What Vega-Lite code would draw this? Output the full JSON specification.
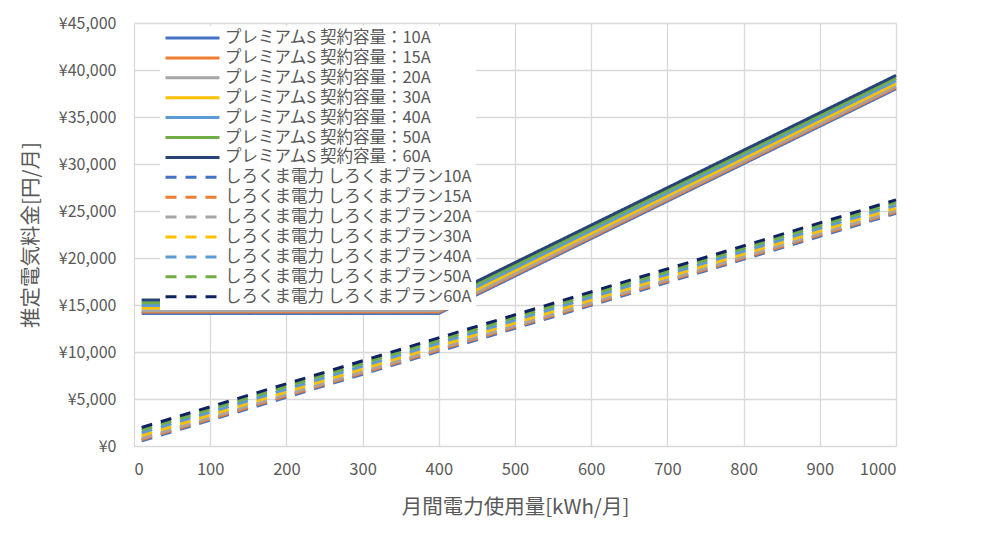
{
  "$schema": "https://vega.github.io/schema/vega-lite/v6.json",
  "width": 762,
  "height": 423,
  "autosize": {"type": "none"},
  "padding": {"left": 134, "top": 23, "right": 86, "bottom": 101},
  "background": "white",
  "data": {
    "values": [
      {"s": "プレミアムS 契約容量：10A", "x": 10, "y": 14100},
      {"s": "プレミアムS 契約容量：10A", "x": 400, "y": 14100},
      {"s": "プレミアムS 契約容量：10A", "x": 1000, "y": 38000},
      {"s": "プレミアムS 契約容量：15A", "x": 10, "y": 14243},
      {"s": "プレミアムS 契約容量：15A", "x": 400, "y": 14243},
      {"s": "プレミアムS 契約容量：15A", "x": 1000, "y": 38143},
      {"s": "プレミアムS 契約容量：20A", "x": 10, "y": 14386},
      {"s": "プレミアムS 契約容量：20A", "x": 400, "y": 14386},
      {"s": "プレミアムS 契約容量：20A", "x": 1000, "y": 38286},
      {"s": "プレミアムS 契約容量：30A", "x": 10, "y": 14672},
      {"s": "プレミアムS 契約容量：30A", "x": 400, "y": 14672},
      {"s": "プレミアムS 契約容量：30A", "x": 1000, "y": 38572},
      {"s": "プレミアムS 契約容量：40A", "x": 10, "y": 14958},
      {"s": "プレミアムS 契約容量：40A", "x": 400, "y": 14958},
      {"s": "プレミアムS 契約容量：40A", "x": 1000, "y": 38858},
      {"s": "プレミアムS 契約容量：50A", "x": 10, "y": 15244},
      {"s": "プレミアムS 契約容量：50A", "x": 400, "y": 15244},
      {"s": "プレミアムS 契約容量：50A", "x": 1000, "y": 39144},
      {"s": "プレミアムS 契約容量：60A", "x": 10, "y": 15530},
      {"s": "プレミアムS 契約容量：60A", "x": 400, "y": 15530},
      {"s": "プレミアムS 契約容量：60A", "x": 1000, "y": 39430},
      {"s": "しろくま電力 しろくまプラン10A", "x": 10, "y": 540},
      {"s": "しろくま電力 しろくまプラン10A", "x": 1000, "y": 24750},
      {"s": "しろくま電力 しろくまプラン15A", "x": 10, "y": 683},
      {"s": "しろくま電力 しろくまプラン15A", "x": 1000, "y": 24893},
      {"s": "しろくま電力 しろくまプラン20A", "x": 10, "y": 826},
      {"s": "しろくま電力 しろくまプラン20A", "x": 1000, "y": 25036},
      {"s": "しろくま電力 しろくまプラン30A", "x": 10, "y": 1112},
      {"s": "しろくま電力 しろくまプラン30A", "x": 1000, "y": 25322},
      {"s": "しろくま電力 しろくまプラン40A", "x": 10, "y": 1398},
      {"s": "しろくま電力 しろくまプラン40A", "x": 1000, "y": 25608},
      {"s": "しろくま電力 しろくまプラン50A", "x": 10, "y": 1684},
      {"s": "しろくま電力 しろくまプラン50A", "x": 1000, "y": 25894},
      {"s": "しろくま電力 しろくまプラン60A", "x": 10, "y": 1970},
      {"s": "しろくま電力 しろくまプラン60A", "x": 1000, "y": 26180}
    ]
  },
  "mark": {"type": "line", "strokeWidth": 3, "strokeCap": "butt"},
  "encoding": {
    "x": {
      "field": "x", "type": "quantitative",
      "scale": {"domain": [0, 1000], "nice": false, "zero": false},
      "axis": {
        "title": "月間電力使用量[kWh/月]",
        "values": [0, 100, 200, 300, 400, 500, 600, 700, 800, 900, 1000],
        "format": "d",
        "labelFontSize": 16.5,
        "labelPadding": 15,
        "titlePadding": 20
      }
    },
    "y": {
      "field": "y", "type": "quantitative",
      "scale": {"domain": [0, 45000], "nice": false},
      "axis": {
        "title": "推定電気料金[円/月]",
        "values": [0, 5000, 10000, 15000, 20000, 25000, 30000, 35000, 40000, 45000],
        "labelExpr": "'¥' + format(datum.value, ',')",
        "labelFontSize": 16,
        "labelPadding": 18,
        "titlePadding": 17
      }
    },
    "color": {
      "field": "s", "type": "nominal",
      "scale": {
        "domain": [
          "プレミアムS 契約容量：10A", "プレミアムS 契約容量：15A", "プレミアムS 契約容量：20A", "プレミアムS 契約容量：30A", "プレミアムS 契約容量：40A", "プレミアムS 契約容量：50A", "プレミアムS 契約容量：60A",
          "しろくま電力 しろくまプラン10A", "しろくま電力 しろくまプラン15A", "しろくま電力 しろくまプラン20A", "しろくま電力 しろくまプラン30A", "しろくま電力 しろくまプラン40A", "しろくま電力 しろくまプラン50A", "しろくま電力 しろくまプラン60A"
        ],
        "range": ["#4472C4", "#ED7D31", "#A5A5A5", "#FFC000", "#5B9BD5", "#70AD47", "#264478",
                  "#4472C4", "#ED7D31", "#A5A5A5", "#FFC000", "#5B9BD5", "#70AD47", "#0E2262"]
      },
      "legend": {
        "title": null,
        "orient": "none",
        "legendX": 26,
        "legendY": 3
      }
    },
    "strokeDash": {
      "field": "s", "type": "nominal",
      "scale": {
        "domain": [
          "プレミアムS 契約容量：10A", "プレミアムS 契約容量：15A", "プレミアムS 契約容量：20A", "プレミアムS 契約容量：30A", "プレミアムS 契約容量：40A", "プレミアムS 契約容量：50A", "プレミアムS 契約容量：60A",
          "しろくま電力 しろくまプラン10A", "しろくま電力 しろくまプラン15A", "しろくま電力 しろくまプラン20A", "しろくま電力 しろくまプラン30A", "しろくま電力 しろくまプラン40A", "しろくま電力 しろくまプラン50A", "しろくま電力 しろくまプラン60A"
        ],
        "range": [[1, 0], [1, 0], [1, 0], [1, 0], [1, 0], [1, 0], [1, 0],
                  [11, 9], [11, 9], [11, 9], [11, 9], [11, 9], [11, 9], [11, 9]]
      },
      "legend": {
        "title": null,
        "orient": "none",
        "legendX": 26,
        "legendY": 3
      }
    }
  },
  "config": {
    "font": "Noto Sans CJK JP",
    "view": {"stroke": null},
    "axis": {
      "domain": false,
      "ticks": false,
      "tickSize": 0,
      "grid": true,
      "gridColor": "#D9D9D9",
      "gridWidth": 1.3,
      "labelFont": "Noto Sans CJK JP",
      "labelFontSize": 15,
      "labelColor": "#595959",
      "titleFont": "Noto Sans CJK JP",
      "titleFontSize": 20.5,
      "titleFontWeight": "normal",
      "titleColor": "#595959"
    },
    "legend": {
      "symbolType": "stroke",
      "symbolSize": 2916,
      "symbolStrokeWidth": 3,
      "clipHeight": 16,
      "rowPadding": 2.9,
      "labelOffset": 4,
      "labelFont": "Noto Sans CJK JP",
      "labelFontSize": 16.5,
      "labelColor": "#595959",
      "labelLimit": 500,
      "padding": 4,
      "fillColor": "white",
      "strokeColor": null
    }
  }
}
